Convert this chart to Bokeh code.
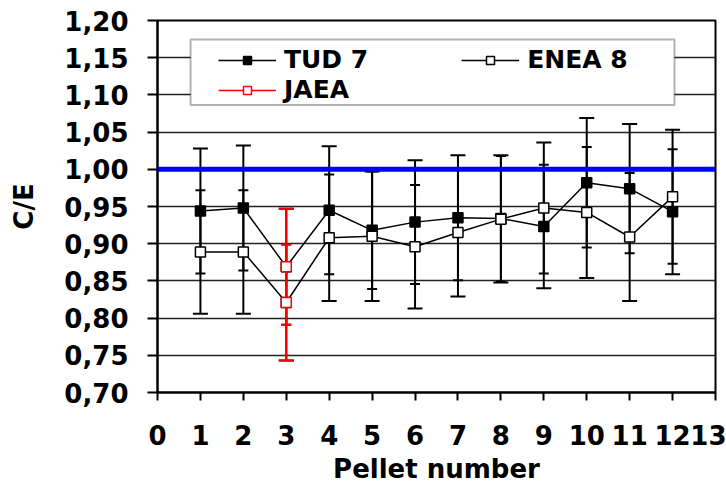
from bokeh.plotting import figure
from bokeh.models import FixedTicker, Span, Legend, LegendItem, BoxAnnotation
from bokeh.embed import file_html
from bokeh.resources import INLINE

# ---------------- data ----------------
pellets = [1, 2, 3, 4, 5, 6, 7, 8, 9, 10, 11, 12]
tud = [0.944, 0.948, 0.869, 0.945, 0.918, 0.929, 0.935, 0.934, 0.923, 0.982, 0.974, 0.943]
tud_err = [0.084, 0.084, 0.078, 0.086, 0.079, 0.083, 0.084, 0.085, 0.083, 0.087, 0.087, 0.084]
enea = [0.889, 0.889, 0.821, 0.908, 0.910, 0.896, 0.915, 0.933, 0.948, 0.942, 0.909, 0.963]
enea_err = [0.083, 0.083, 0.078, 0.085, 0.087, 0.083, 0.086, 0.085, 0.088, 0.088, 0.086, 0.090]
jaea_pellet = [3, 3]
jaea = [0.869, 0.821]
jaea_err = [0.078, 0.078]
reference_ce = 1.0

x_ticks = [0, 1, 2, 3, 4, 5, 6, 7, 8, 9, 10, 11, 12, 13]
y_ticks = [0.70, 0.75, 0.80, 0.85, 0.90, 0.95, 1.00, 1.05, 1.10, 1.15, 1.20]
y_tick_labels = ["0,70", "0,75", "0,80", "0,85", "0,90", "0,95", "1,00", "1,05", "1,10", "1,15", "1,20"]

FONT = "DejaVu Sans"
WIDE, NARROW = 15, 10

p = figure(width=726, height=486, x_range=(0, 13), y_range=(0.70, 1.20),
           output_backend="svg", toolbar_location=None,
           min_border_left=157, min_border_right=11, min_border_top=20, min_border_bottom=94)
p.background_fill_color = "white"
p.border_fill_color = "white"
p.outline_line_color = "black"
p.outline_line_width = 2

# grid
p.xgrid.visible = False
p.ygrid.ticker = FixedTicker(ticks=y_ticks)
p.ygrid.grid_line_color = "#222222"
p.ygrid.grid_line_width = 1.3

# axes
for ax in (p.xaxis[0], p.yaxis[0]):
    ax.axis_line_color = "black"
    ax.axis_line_width = 2
    ax.major_tick_line_color = "black"
    ax.major_tick_line_width = 2
    ax.major_tick_in = 0
    ax.minor_tick_line_color = None
    ax.major_label_text_font = FONT
    ax.major_label_text_font_style = "bold"
    ax.major_label_text_font_size = "26px"
    ax.major_label_text_color = "black"
    ax.axis_label_text_font = FONT
    ax.axis_label_text_font_style = "bold"
    ax.axis_label_text_font_size = "26px"
    ax.axis_label_text_color = "black"

p.xaxis.ticker = FixedTicker(ticks=x_ticks)
p.xaxis.major_tick_out = 8
p.xaxis.major_label_standoff = 24
p.xaxis.axis_label = "Pellet number"
p.xaxis.axis_label_standoff = 6

p.yaxis.ticker = FixedTicker(ticks=y_ticks)
p.yaxis.major_label_overrides = {t: s for t, s in zip(y_ticks, y_tick_labels)}
p.yaxis.major_tick_out = 10
p.yaxis.major_label_standoff = 19
p.yaxis.axis_label = "C/E"
p.yaxis.axis_label_standoff = 22

# error bars: outer caps wide, inner caps narrow
tud_up_cap = [WIDE if t >= e else NARROW for t, e in zip(tud, enea)]
tud_lo_cap = [NARROW if t > e else WIDE for t, e in zip(tud, enea)]
enea_up_cap = [WIDE if e >= t else NARROW for t, e in zip(tud, enea)]
enea_lo_cap = [NARROW if e > t else WIDE for t, e in zip(tud, enea)]


def err_bars(xs, ys, errs, up_sizes, lo_sizes, color):
    lo = [y - e for y, e in zip(ys, errs)]
    hi = [y + e for y, e in zip(ys, errs)]
    p.segment(x0=xs, y0=lo, x1=xs, y1=hi, line_color=color, line_width=2)
    p.scatter(x=xs, y=hi, marker="dash", size=up_sizes, line_color=color, line_width=2)
    p.scatter(x=xs, y=lo, marker="dash", size=lo_sizes, line_color=color, line_width=2)


err_bars(pellets, tud, tud_err, tud_up_cap, tud_lo_cap, "black")
err_bars(pellets, enea, enea_err, enea_up_cap, enea_lo_cap, "black")

tud_line = p.line(pellets, tud, line_color="black", line_width=1.5)
enea_line = p.line(pellets, enea, line_color="black", line_width=1.5)
tud_pts = p.scatter(pellets, tud, marker="square", size=10, fill_color="black",
                    line_color="black", line_width=1.5)
enea_pts = p.scatter(pellets, enea, marker="square", size=10, fill_color="white",
                     line_color="black", line_width=1.5)

jaea_up_cap = [WIDE if y == max(jaea) else NARROW for y in jaea]
jaea_lo_cap = [WIDE if y == min(jaea) else NARROW for y in jaea]
err_bars(jaea_pellet, jaea, jaea_err, jaea_up_cap, jaea_lo_cap, "red")
jaea_line = p.line(jaea_pellet, jaea, line_color="red", line_width=1.5)
jaea_pts = p.scatter(jaea_pellet, jaea, marker="square", size=10, fill_color="white",
                     line_color="red", line_width=1.5)

# reference line C/E = 1
p.add_layout(Span(location=reference_ce, dimension="width", line_color="#0000FF", line_width=5))

# legend box
box = BoxAnnotation(left=0.77, right=12.045, top=1.1745, bottom=1.0865,
                    fill_color="white", fill_alpha=1.0, line_color="black", line_width=2)
p.add_layout(box)


def make_legend(items, loc, spacing):
    lg = Legend(items=items, location=loc, orientation="horizontal",
                glyph_width=58, glyph_height=20, label_standoff=8, spacing=spacing,
                padding=0, margin=0, border_line_color=None, background_fill_alpha=0,
                label_text_font=FONT, label_text_font_style="bold",
                label_text_font_size="25px", label_text_color="black")
    return lg


leg1 = make_legend([LegendItem(label="TUD 7", renderers=[tud_line, tud_pts]),
                    LegendItem(label="ENEA 8", renderers=[enea_line, enea_pts])],
                   (61, 318), 93)
leg2 = make_legend([LegendItem(label="JAEA", renderers=[jaea_line, jaea_pts])],
                   (61, 288), 0)
p.add_layout(leg1, "center")
p.add_layout(leg2, "center")

open("out.html", "w").write(file_html(p, INLINE))
